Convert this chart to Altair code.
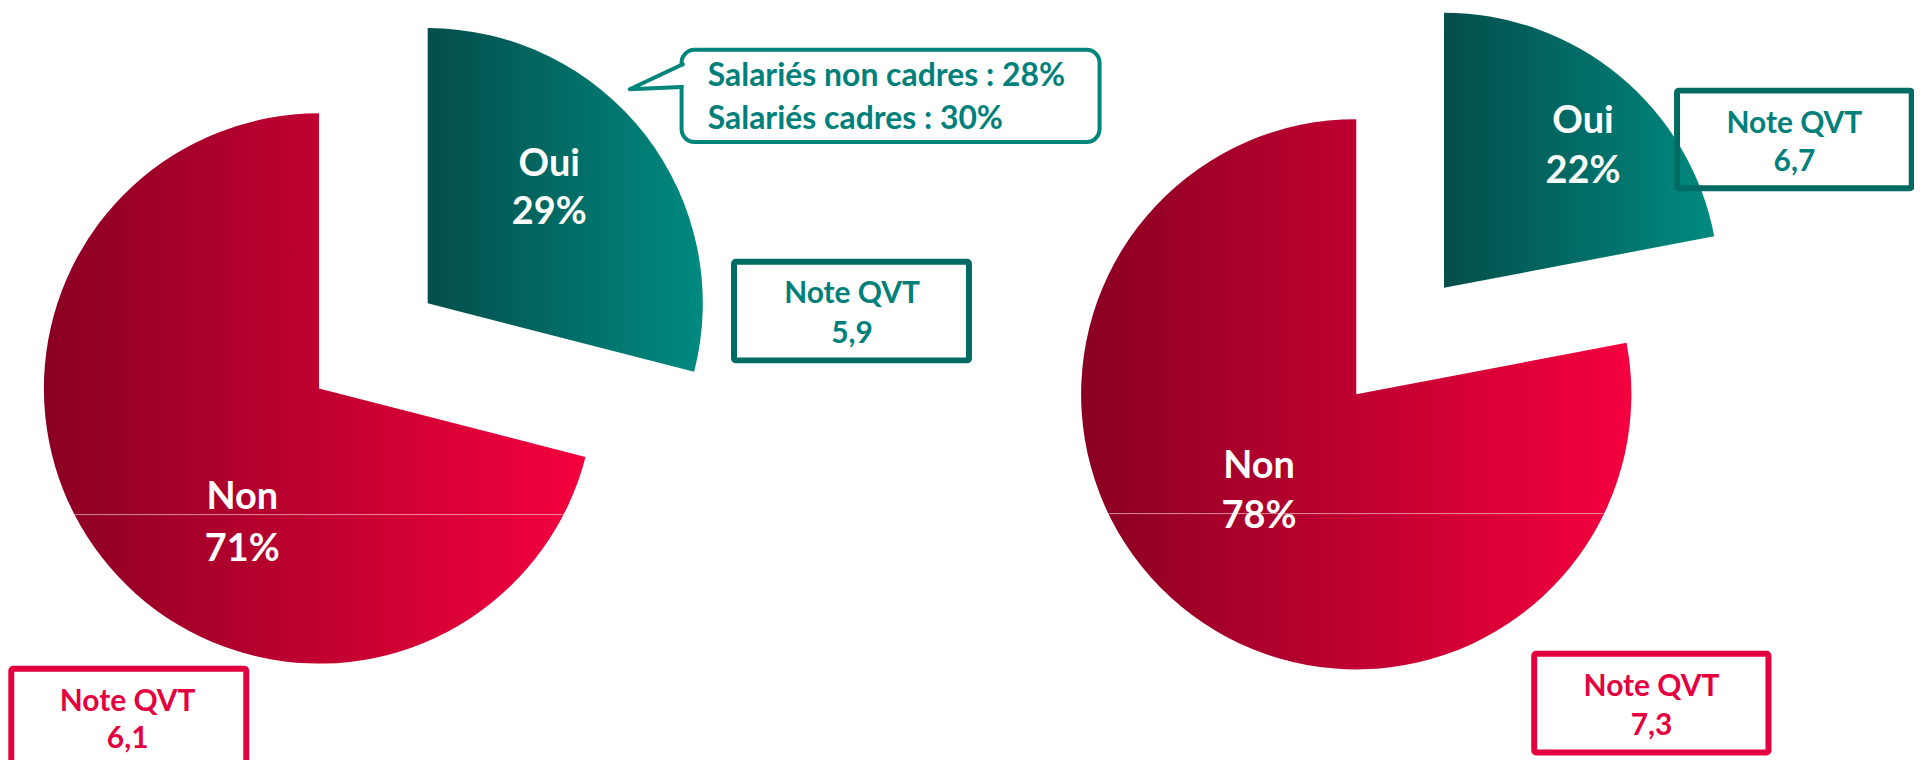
import math
import altair as alt
import pandas as pd

# ---------------- data ----------------
categories = ["Oui", "Non"]
pct_left = [29, 71]
pct_right = [22, 78]
notes_left = ["5,9", "6,1"]
notes_right = ["6,7", "7,3"]
note_title = "Note QVT"
bubble_lines = ["Salariés non cadres : 28%", "Salariés cadres : 30%"]

rows = []
for pie, pcts, notes in (("L", pct_left, notes_left), ("R", pct_right, notes_right)):
    s = 0
    for cat, p, n in zip(categories, pcts, notes):
        rows.append(dict(pie=pie, cat=cat, pct=p, start=s, end=s + p,
                         pct_label=f"{p}%", note=n))
        s += p
df = pd.DataFrame(rows)

# ---------------- layout (pixels) ----------------
W, H = 1912, 752
R = 276
FONT = "Lato"
TEAL_TXT = "#00807A"
TEAL_BOX = "#006B63"
PINK = "#E4003F"

centers = {("L", "Oui"): (421, 295), ("L", "Non"): (312, 380.5),
           ("R", "Oui"): (1440.5, 279.5), ("R", "Non"): (1352.5, 386.3)}
label_pos = {("L", "Oui"): (543, 167.3, 215.9), ("L", "Non"): (235, 501.6, 553.6),
             ("R", "Oui"): (1580, 124.3, 174.6), ("R", "Non"): (1255, 470.1, 520.6)}
note_boxes = {("L", "Oui"): (728.3, 964, 253.3, 352.3, 846.7, 294.4, 335),
              ("L", "Non"): (3.3, 239, 661.7, 775, 120, 703.7, 740.7),
              ("R", "Oui"): (1674.3, 1909.7, 81.7, 179.7, 1792, 124.4, 162),
              ("R", "Non"): (1531, 1766, 646.7, 745.7, 1648.7, 689.4, 727.7)}
grads = {"Oui": ("#044E4B", "#008A80"), "Non": ("#8A0022", "#F5003F")}
artifact_lines = {"L": (67, 557, 507), "R": (1104, 1600, 506)}


def grad(c0, c1):
    return alt.LinearGradient(
        gradient="linear",
        stops=[alt.GradientStop(offset=0, color=c0), alt.GradientStop(offset=1, color=c1)],
        x1=0, x2=1, y1=0, y2=0)


theta_scale = alt.Scale(domain=[0, 100], range=[0, 2 * math.pi])
base = alt.Chart(df)
one = alt.Chart(pd.DataFrame({"a": [0]}))
layers = []

# pie slices
for (pie, cat), (cx, cy) in centers.items():
    sel = base.transform_filter((alt.datum.pie == pie) & (alt.datum.cat == cat))
    layers.append(
        sel.mark_arc(radius=R, fill=grad(*grads[cat]), strokeWidth=0).encode(
            theta=alt.Theta("start:Q", scale=theta_scale),
            theta2="end:Q",
            x=alt.value(cx), y=alt.value(cy)))

# faint horizontal artefact lines across the "Non" slices
for pie, (x1, x2, yy) in artifact_lines.items():
    layers.append(one.mark_rule(color="white", opacity=0.55, strokeWidth=1).encode(
        x=alt.value(x1), x2=alt.value(x2), y=alt.value(yy)))

# slice labels
for (pie, cat), (lx, y1, y2) in label_pos.items():
    sel = base.transform_filter((alt.datum.pie == pie) & (alt.datum.cat == cat))
    common = dict(font=FONT, fontWeight="bold", fontSize=38, color="white",
                  align="center", baseline="alphabetic")
    layers.append(sel.mark_text(**common).encode(
        text="cat:N", x=alt.value(lx), y=alt.value(y1)))
    layers.append(sel.mark_text(**common).encode(
        text="pct_label:N", x=alt.value(lx), y=alt.value(y2)))

# note boxes
for (pie, cat), (x1, x2, y1, y2, tx, ty1, ty2) in note_boxes.items():
    col_box = TEAL_BOX if cat == "Oui" else PINK
    col_txt = TEAL_TXT if cat == "Oui" else PINK
    fill = "transparent" if (pie == "R" and cat == "Oui") else "white"
    layers.append(one.mark_rect(fill=fill, stroke=col_box, strokeWidth=6,
                                cornerRadius=2).encode(
        x=alt.value(x1), x2=alt.value(x2), y=alt.value(y1), y2=alt.value(y2)))
    sel = base.transform_filter((alt.datum.pie == pie) & (alt.datum.cat == cat))
    common = dict(font=FONT, fontWeight="bold", fontSize=30, color=col_txt,
                  align="center", baseline="alphabetic")
    layers.append(one.mark_text(text=note_title, **common).encode(
        x=alt.value(tx), y=alt.value(ty1)))
    layers.append(sel.mark_text(**common).encode(
        text="note:N", x=alt.value(tx), y=alt.value(ty2)))

# callout bubble
BUB = "#00857D"
layers.append(one.mark_rect(fill="white", stroke=BUB, strokeWidth=4,
                            cornerRadius=13).encode(
    x=alt.value(675.7), x2=alt.value(1095), y=alt.value(40.7), y2=alt.value(133.3)))
layers.append(one.mark_rule(color="white", strokeWidth=7).encode(
    x=alt.value(675.7), y=alt.value(57.5), y2=alt.value(76)))
tail = pd.DataFrame({"px": [677, 623.7, 675.7], "py": [55.3, 80.3, 78], "o": [0, 1, 2]})
layers.append(alt.Chart(tail).mark_line(color=BUB, strokeWidth=4, strokeJoin="round",
                                        strokeCap="round").encode(
    x=alt.X("px:Q", scale=None, axis=None),
    y=alt.Y("py:Q", scale=None, axis=None),
    order="o:Q"))
for i, (line, yy) in enumerate(zip(bubble_lines, [77.5, 120.5])):
    layers.append(one.mark_text(text=line, font=FONT, fontWeight="bold", fontSize=32,
                                color=TEAL_TXT, align="left",
                                baseline="alphabetic").encode(
        x=alt.value(702), y=alt.value(yy)))

chart = alt.layer(*layers).properties(
    width=W, height=H, padding=0, autosize=alt.AutoSizeParams(type="none"),
    background="white"
).configure_view(stroke=None)

chart.save("out.html", embed_options={"renderer": "svg", "actions": False})
